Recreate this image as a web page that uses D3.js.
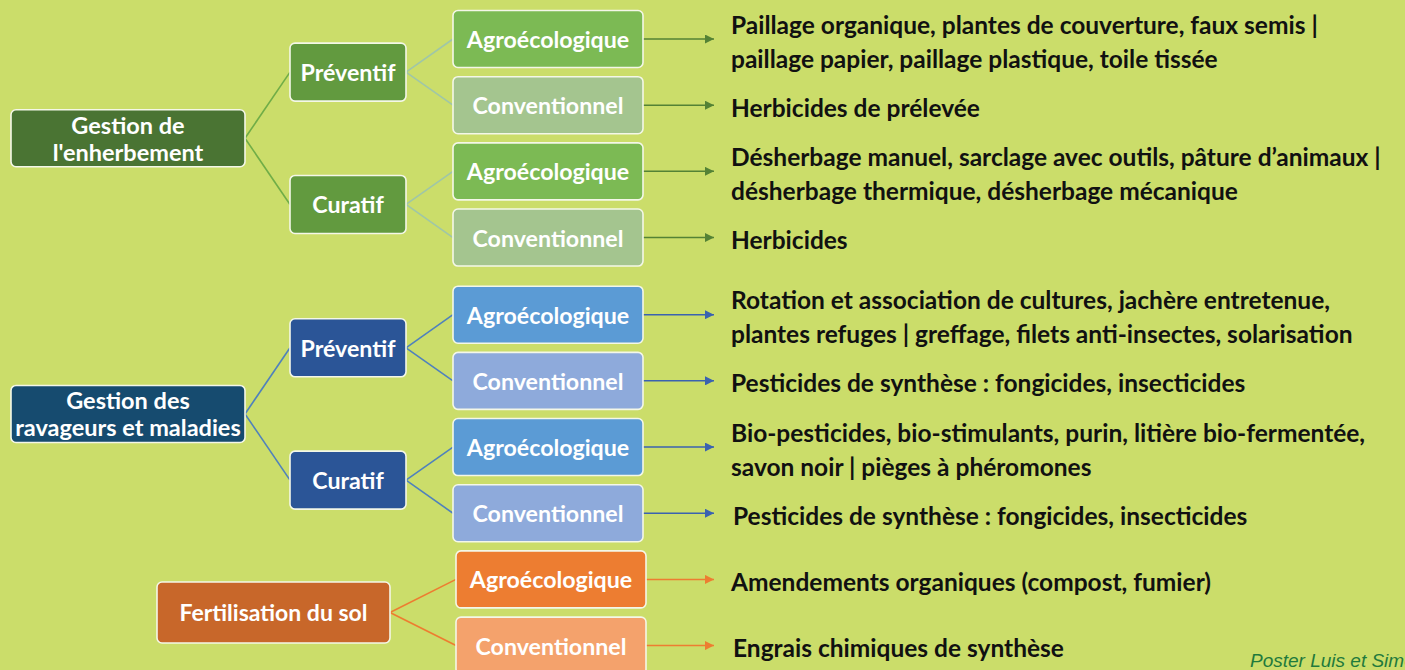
<!DOCTYPE html>
<html lang="fr">
<head>
<meta charset="utf-8">
<title>Gestion agroécologique</title>
<script src="https://cdn.jsdelivr.net/npm/d3@7"></script>
<style>
  html, body { margin: 0; padding: 0; background: #cbdd6a; overflow: hidden; }
  svg { display: block; }
  .box text { font-family: Lato, "Open Sans", sans-serif; font-weight: 700; fill: #fff; }
  .leaf { font-family: Lato, "Open Sans", sans-serif; font-weight: 700; fill: #111; }
</style>
</head>
<body>
<script>
// --- data ---------------------------------------------------------------
const roots = ["Gestion de l'enherbement", "Gestion des ravageurs et maladies", "Fertilisation du sol"]
const rootLines = [["Gestion de", "l'enherbement"], ["Gestion des", "ravageurs et maladies"], ["Fertilisation du sol"]]
const modes = ["Préventif", "Curatif"]
const approaches = ["Agroécologique", "Conventionnel"]
const practices = [
  ["Paillage organique, plantes de couverture, faux semis |", "paillage papier, paillage plastique, toile tissée"],
  ["Herbicides de prélevée"],
  ["Désherbage manuel, sarclage avec outils, pâture d’animaux |", "désherbage thermique, désherbage mécanique"],
  ["Herbicides"],
  ["Rotation et association de cultures, jachère entretenue,", "plantes refuges | greffage, filets anti-insectes, solarisation"],
  ["Pesticides de synthèse : fongicides, insecticides"],
  ["Bio-pesticides, bio-stimulants, purin, litière bio-fermentée,", "savon noir | pièges à phéromones"],
  ["Pesticides de synthèse : fongicides, insecticides"],
  ["Amendements organiques (compost, fumier)"],
  ["Engrais chimiques de synthèse"]
]
const practiceRoot = [0, 0, 0, 0, 1, 1, 1, 1, 2, 2]
const practiceMode = [0, 0, 1, 1, 0, 0, 1, 1, -1, -1]   // -1 : pas de niveau préventif / curatif
const credit = "Poster Luis et Simon"

// --- styles ------------------------------------------------------------------
const palette = [
  { root: "#4a7433", mode: "#629a3f", agro: "#7cba54", conv: "#a4c58f", link1: "#70ad47", link2: "#9fc6a8", arrow: "#548235" },
  { root: "#164b6f", mode: "#2b5597", agro: "#5b9bd5", conv: "#8eaadb", link1: "#4f81bd", link2: "#4f81bd", arrow: "#3a62b0" },
  { root: "#c8672a", mode: "#c8672a", agro: "#ed7d31", conv: "#f4a26c", link1: "#ed7d31", link2: "#ed7d31", arrow: "#ed7d31" }
]

const w = 1405
const h = 670

const svg = d3.select("body").append("svg")
  .attr("width", w)
  .attr("height", h)

svg.append("rect").attr("width", w).attr("height", h).attr("fill", "#cbdd6a")

// vertical scale over leaf slots (small gap after first group)
const slot = i => i + (practiceRoot[i] > 0 ? 0.166 : 0)
const y = d3.scaleLinear().domain([0, 9]).range([39, 634.6])

// horizontal columns
const x = d3.scalePoint().domain(["root", "mode", "approach", "text"]).range([11, 731])
const col = {
  root: { x0: 11, w: 234 },
  mode: { x0: 290, w: 116 },
  approach: { x0: 453, w: 190 }
}

// build tree positions
const leaves = practices.map((lines, i) => ({
  i, lines,
  root: practiceRoot[i],
  mode: practiceMode[i],
  approach: i % 2,
  cy: y(slot(i))
}))

const modeNodes = d3.groups(leaves.filter(d => d.mode >= 0), d => d.root, d => d.mode)
  .flatMap(([r, ms]) => ms.map(([m, ls]) => ({ root: r, mode: m, cy: d3.mean(ls, l => l.cy), leaves: ls })))

const rootNodes = roots.map((name, r) => {
  const kids = modeNodes.filter(m => m.root === r)
  const cy = kids.length ? d3.mean(kids, k => k.cy) : d3.mean(leaves.filter(l => l.root === r), l => l.cy)
  return { r, name, lines: rootLines[r], cy, hasModes: kids.length > 0 }
})

// --- links -------------------------------------------------------------------
const links = svg.append("g").attr("fill", "none").attr("stroke-width", 1.6)

rootNodes.forEach(rn => {
  const p = palette[rn.r]
  const rx0 = rn.hasModes ? col.root.x0 : 157
  const rx1 = rx0 + col.root.w - (rn.hasModes ? 0 : 1)
  if (rn.hasModes) {
    modeNodes.filter(m => m.root === rn.r).forEach(m => {
      links.append("line")
        .attr("x1", rx1).attr("y1", rn.cy)
        .attr("x2", col.mode.x0).attr("y2", m.cy)
        .attr("stroke", p.link1)
      m.leaves.forEach(l => {
        links.append("line")
          .attr("x1", col.mode.x0 + col.mode.w).attr("y1", m.cy)
          .attr("x2", col.approach.x0).attr("y2", l.cy)
          .attr("stroke", p.link2)
      })
    })
  } else {
    leaves.filter(l => l.root === rn.r).forEach(l => {
      links.append("line")
        .attr("x1", rx1).attr("y1", rn.cy)
        .attr("x2", col.approach.x0 + 3).attr("y2", l.cy)
        .attr("stroke", p.link1)
    })
  }
})

// --- arrows ------------------------------------------------------------------
const defs = svg.append("defs")
palette.forEach((p, k) => {
  defs.append("marker")
    .attr("id", "arrow" + k)
    .attr("viewBox", "0 0 10 10")
    .attr("refX", 10).attr("refY", 5)
    .attr("markerWidth", 10).attr("markerHeight", 9)
    .attr("markerUnits", "userSpaceOnUse")
    .attr("orient", "auto")
    .append("path").attr("d", "M0,0 L10,5 L0,10 Z").attr("fill", p.arrow)
})

svg.append("g").selectAll("line")
  .data(leaves)
  .join("line")
  .attr("x1", d => col.approach.x0 + col.approach.w + (d.root === 2 ? 3 : 0))
  .attr("x2", 714)
  .attr("y1", d => d.cy)
  .attr("y2", d => d.cy)
  .attr("stroke", d => palette[d.root].arrow)
  .attr("stroke-width", 1.5)
  .attr("marker-end", d => `url(#arrow${d.root})`)

// --- boxes -------------------------------------------------------------------
function box(g, x0, cy, bw, bh, fill, lines, fs) {
  const b = g.append("g").attr("class", "box")
  b.append("rect")
    .attr("x", x0).attr("y", cy - bh / 2)
    .attr("width", bw).attr("height", bh)
    .attr("rx", 5)
    .attr("fill", fill)
    .attr("stroke", "#f4f7e8")
    .attr("stroke-width", 1.6)
  const lh = 27
  lines.forEach((t, j) => {
    b.append("text")
      .attr("x", x0 + bw / 2)
      .attr("y", cy + (j - (lines.length - 1) / 2) * lh)
      .attr("text-anchor", "middle")
      .attr("dominant-baseline", "central")
      .attr("font-size", fs)
      .text(t)
  })
}

const nodes = svg.append("g")

rootNodes.forEach(rn => {
  const p = palette[rn.r]
  if (rn.hasModes) box(nodes, col.root.x0, rn.cy, col.root.w, 57, p.root, rn.lines, 23.5)
  else box(nodes, 157, rn.cy, 233, 61, p.root, rn.lines, 23)
})

modeNodes.forEach(m => {
  box(nodes, col.mode.x0, m.cy, col.mode.w, 58, palette[m.root].mode, [modes[m.mode]], 23.2)
})

leaves.forEach(l => {
  const p = palette[l.root]
  box(nodes, col.approach.x0 + (l.root === 2 ? 3 : 0), l.cy, col.approach.w, 57,
      l.approach === 0 ? p.agro : p.conv, [approaches[l.approach]], 23.2)
})

// --- practice texts --------------------------------------------------------
const texts = svg.append("g")
leaves.forEach(l => {
  const tx = x("text") + (l.i === 7 || l.i === 9 ? 2 : 0)
  l.lines.forEach((t, j) => {
    const ty = l.lines.length > 1 ? l.cy - 15 + j * 34 : l.cy + 2
    texts.append("text")
      .attr("class", "leaf")
      .attr("x", tx)
      .attr("y", ty)
      .attr("dominant-baseline", "central")
      .attr("font-size", 24.5)
      .text(t)
  })
})

svg.append("text")
  .attr("x", 1250)
  .attr("y", 667)
  .attr("font-family", "Liberation Sans, Arial, sans-serif")
  .attr("font-style", "italic")
  .attr("font-size", 19)
  .attr("fill", "#1f7a3c")
  .text(credit)
</script>
</body>
</html>
